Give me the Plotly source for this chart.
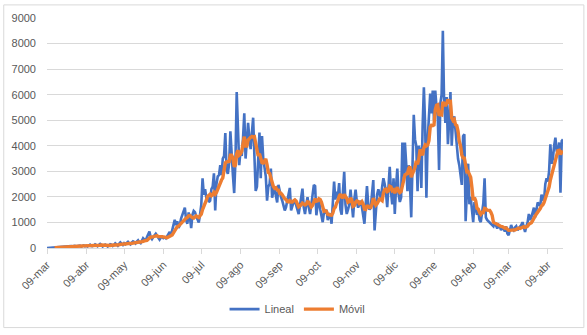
import pandas as pd
import plotly.graph_objects as go

start_date = "2020-03-09"

# Daily values ("Lineal"), one list per month (09th -> 08th of next month)
mar_2020 = [0, 5, 10, 15, 20, 25, 30, 30, 40, 45, 50, 40, 55, 60, 50, 70, 65, 60, 80, 75,
            70, 90, 85, 70, 80, 100, 90, 60, 80, 100, 70]
abr_2020 = [90, 60, 110, 130, 80, 70, 100, 140, 110, 70, 120, 160, 120, 60, 90, 130, 100, 60,
            100, 150, 130, 80, 120, 180, 140, 90, 160, 220, 170, 120, 190]
may_2020 = [150, 200, 240, 180, 140, 210, 260, 230, 180, 250, 300, 220, 190, 280, 380, 330,
            260, 420, 560, 640, 420, 350, 430, 520, 560, 480, 380, 330, 410, 440, 390]
jun_2020 = [420, 380, 450, 520, 630, 500, 700, 950, 1100, 900, 1050, 780, 900, 1150, 1270,
            1400, 1580, 1100, 950, 1390, 1200, 780, 1300, 1450, 1400, 1250, 1150, 1000, 1300, 1700]
jul_2020 = [2730, 2090, 2300, 1970, 2000, 1800, 1850, 2300, 2400, 2920, 1470, 2500, 2800, 2850,
            3240, 2850, 3500, 3600, 4500, 3050, 2900, 3300, 4570, 3500, 2850, 2150, 3400, 6100,
            4200, 3240, 3800]
ago_2020 = [3600, 4300, 5270, 3500, 4200, 4900, 4300, 3870, 4500, 5100, 3600, 2230, 2400, 3500,
            4520, 2730, 4380, 3500, 3000, 2800, 1850, 2400, 2500, 3110, 1970, 2230, 2300, 2000,
            1780, 2470]
sep_2020 = [2200, 2000, 1850, 1700, 1470, 1600, 1900, 2100, 2350, 1470, 1700, 1800, 1850, 1600,
            1500, 1330, 1700, 2000, 2320, 1600, 1330, 1700, 1990, 1600, 1330, 1700, 2000, 2470,
            2420, 1280]
oct_2020 = [1700, 1900, 1520, 1300, 1010, 1400, 1390, 1500, 1090, 1350, 1300, 950, 2000, 2600,
            1900, 2200, 2000, 2540, 1500, 1300, 2200, 2980, 1700, 1330, 1500, 1700, 2280, 1700,
            1200, 1900, 2280]
nov_2020 = [1800, 1580, 1700, 1850, 1600, 1200, 950, 1700, 2420, 1700, 1500, 1600, 2100, 2660,
            690, 1500, 2090, 2300, 2100, 1900, 2400, 2730, 2500, 2200, 1600, 2300, 3180, 2200,
            1710, 2730]
dic_2020 = [1330, 2400, 3110, 2100, 1800, 1970, 4130, 2800, 4130, 3300, 2220, 3240, 2500, 1200,
            3500, 5210, 4250, 4000, 2220, 4000, 3800, 2350, 4760, 6290, 4800, 1970, 4250, 5000,
            6040, 5270, 6160]
ene_2021 = [5000, 6160, 5500, 5150, 3050, 5650, 6000, 8500, 5650, 4890, 5910, 4060, 5000, 6100,
            4000, 5000, 5150, 4500, 3800, 3490, 3240, 2800, 2470, 4380, 4450, 1050, 2500, 3300,
            1710, 2000, 1500]
feb_2021 = [1010, 1800, 1580, 1300, 1460, 1100, 1010, 1500, 1750, 2730, 1200, 1100, 1050, 1000,
            950, 900, 850, 1010, 850, 760, 900, 850, 700, 800, 760, 650, 850, 570]
mar_abr_2021 = [500, 700, 900, 750, 690, 800, 850, 700, 760, 800, 900, 1010, 800, 630, 850,
                1000, 1330, 1100, 1200, 1400, 1580, 1200, 1500, 1780, 1700, 1650, 2090, 1900,
                1850, 2500, 2730, 2600, 3000, 4060, 3300, 3500, 4000, 4320, 3800, 3700, 4130,
                2160, 4190, 4250]

tick_dates = ["2020-03-09", "2020-04-09", "2020-05-09", "2020-06-09", "2020-07-09",
              "2020-08-09", "2020-09-09", "2020-10-09", "2020-11-09", "2020-12-09",
              "2021-01-09", "2021-02-09", "2021-03-09", "2021-04-09"]
tick_labels = ["09-mar", "09-abr", "09-may", "09-jun", "09-jul", "09-ago", "09-sep",
               "09-oct", "09-nov", "09-dic", "09-ene", "09-feb", "09-mar", "09-abr"]
y_ticks = [0, 1000, 2000, 3000, 4000, 5000, 6000, 7000, 8000, 9000]

lineal = (mar_2020 + abr_2020 + may_2020 + jun_2020 + jul_2020 + ago_2020 + sep_2020 +
          oct_2020 + nov_2020 + dic_2020 + ene_2021 + feb_2021 + mar_abr_2021)
dates = pd.date_range(start_date, periods=len(lineal), freq="D")
movil = pd.Series(lineal).rolling(7).mean()

fig = go.Figure()
fig.add_trace(go.Scatter(x=dates, y=lineal, mode="lines", name="Lineal",
                         line=dict(color="#4472C4", width=2.6)))
fig.add_trace(go.Scatter(x=dates, y=movil, mode="lines", name="Móvil",
                         line=dict(color="#ED7D31", width=3.4)))

W, H = 587, 335
L, R, T, B = 44, 24, 14, 84
pw, ph = W - L - R, H - T - B

fig.update_layout(
    width=W, height=H,
    margin=dict(l=L, r=R, t=T, b=B),
    paper_bgcolor="white", plot_bgcolor="white",
    font=dict(family="Liberation Sans", size=11, color="#595959"),
    showlegend=True,
    legend=dict(orientation="h", x=(296 - L) / pw, xanchor="center",
                y=-(314 - (H - B)) / ph, yanchor="middle",
                font=dict(size=11, color="#595959"), bgcolor="rgba(0,0,0,0)",
                itemwidth=30),
    xaxis=dict(type="date", range=[dates[0], dates[-1]],
               tickvals=pd.to_datetime(tick_dates), ticktext=tick_labels,
               tickangle=-45, showgrid=False, showline=True, linecolor="#d9d9d9",
               linewidth=1, ticks="outside", ticklen=5, tickcolor="#d9d9d9",
               zeroline=False, tickfont=dict(size=11, color="#595959")),
    yaxis=dict(range=[0, 9000], tickvals=y_ticks, showgrid=True, gridcolor="#d9d9d9",
               gridwidth=1, zeroline=False, showline=False, ticks="",
               ticklabelstandoff=10, tickfont=dict(size=11, color="#595959")),
    shapes=[dict(type="rect", xref="paper", yref="paper",
                 x0=(0.5 - L) / pw, x1=(584 - L) / pw,
                 y0=-(333 - (H - B)) / ph, y1=(H - B - 0.5) / ph,
                 line=dict(color="#d9d9d9", width=1), fillcolor="rgba(0,0,0,0)",
                 layer="below")],
)

fig.write_html("out.html")
